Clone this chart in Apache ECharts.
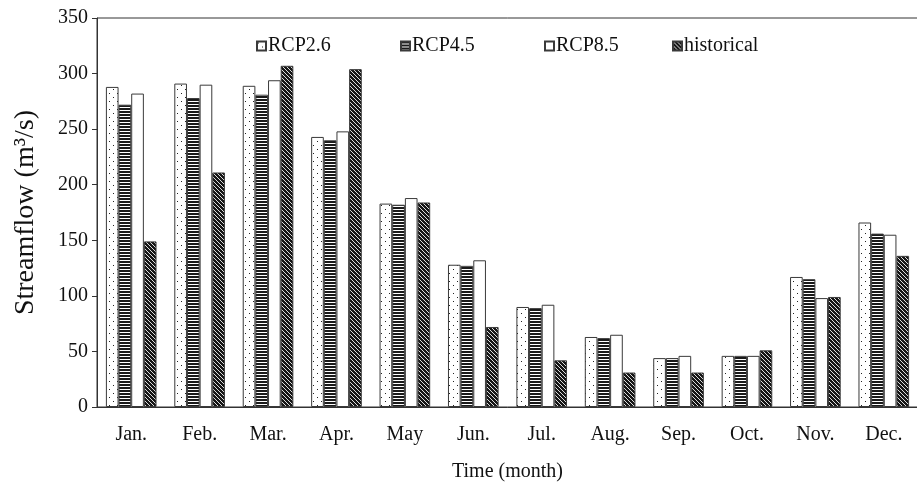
<!DOCTYPE html>
<html>
<head>
<meta charset="utf-8">
<script src="https://cdn.jsdelivr.net/npm/echarts@6/dist/echarts.min.js"></script>
<style>
  html, body { margin: 0; padding: 0; background: #fff; }
  #chart { width: 917px; height: 482px; }
</style>
</head>
<body>
<div id="chart"></div>
<script>
// Monthly streamflow (m3/s) under climate scenarios vs. the historical record
const months = ['Jan.', 'Feb.', 'Mar.', 'Apr.', 'May', 'Jun.', 'Jul.', 'Aug.', 'Sep.', 'Oct.', 'Nov.', 'Dec.'];
const rcp26 = [288, 291, 289, 243, 183, 128, 90, 63, 44, 46, 117, 166];
const rcp45 = [272, 278, 281, 240, 182, 127, 89, 62, 44, 46, 115, 156];
const rcp85 = [282, 290, 294, 248, 188, 132, 92, 65, 46, 46, 98, 155];
const historical = [149, 211, 307, 304, 184, 72, 42, 31, 31, 51, 99, 136];
const yTicks = [0, 50, 100, 150, 200, 250, 300, 350];

// Small tiles used as repeating fill patterns
function tile(w, h, draw) {
  const c = document.createElement('canvas');
  c.width = w; c.height = h;
  const ctx = c.getContext('2d');
  draw(ctx, w, h);
  return c;
}
const dotTile = tile(8, 8, (ctx, w, h) => {
  ctx.fillStyle = '#fff'; ctx.fillRect(0, 0, w, h);
  ctx.fillStyle = '#222';
  ctx.fillRect(1, 1, 1, 1);
  ctx.fillRect(5, 5, 1, 1);
});
const stripeTile = tile(4, 3, (ctx, w, h) => {
  ctx.fillStyle = '#fff'; ctx.fillRect(0, 0, w, h);
  ctx.fillStyle = '#1a1a1a'; ctx.fillRect(0, 0, w, 2);
});
const hatchTile = tile(4, 4, (ctx, w, h) => {
  ctx.fillStyle = '#161616'; ctx.fillRect(0, 0, w, h);
  ctx.fillStyle = '#ddd';
  for (let i = 0; i < 4; i++) ctx.fillRect(i, i, 1, 1);
});

const fills = {
  'RCP2.6': { image: dotTile, repeat: 'repeat' },
  'RCP4.5': { image: stripeTile, repeat: 'repeat' },
  'RCP8.5': '#ffffff',
  'historical': { image: hatchTile, repeat: 'repeat' }
};

const serif = '"Liberation Serif", "Times New Roman", serif';

function barSeries(name, data) {
  return {
    name: name,
    type: 'bar',
    data: data,
    barGap: '0%',
    barCategoryGap: '26%',
    itemStyle: { color: fills[name], borderColor: '#3a3a3a', borderWidth: 1 },
    emphasis: { disabled: true }
  };
}

function legendAt(name, left) {
  return {
    data: [name],
    left: left,
    top: 36,
    icon: 'rect',
    itemWidth: 9,
    itemHeight: 9,
    itemGap: 0,
    textStyle: { fontFamily: serif, fontSize: 20, color: '#111', padding: [0, 0, 0, -3] },
    padding: 0
  };
}

const chart = echarts.init(document.getElementById('chart'), null, { renderer: 'canvas' });
chart.setOption({
  animation: false,
  backgroundColor: '#fff',
  legend: [
    legendAt('RCP2.6', 256),
    legendAt('RCP4.5', 400),
    legendAt('RCP8.5', 544),
    legendAt('historical', 672)
  ],
  grid: {
    left: 97, top: 18, width: 821, height: 389,
    show: true, borderColor: '#333', borderWidth: 1,
    containLabel: false,
    outerBoundsMode: 'none'
  },
  xAxis: {
    type: 'category',
    data: months,
    name: 'Time (month)',
    nameLocation: 'middle',
    nameGap: 55,
    nameTextStyle: { fontFamily: serif, fontSize: 20, color: '#111' },
    axisLine: { show: true, lineStyle: { color: '#333', width: 1 } },
    axisTick: { show: false },
    axisLabel: { fontFamily: serif, fontSize: 20, color: '#111', margin: 18 }
  },
  yAxis: {
    type: 'value',
    min: yTicks[0],
    max: yTicks[yTicks.length - 1],
    interval: 50,
    name: 'Streamflow (m³/s)',
    nameLocation: 'middle',
    nameGap: 57,
    nameTextStyle: { fontFamily: serif, fontSize: 28, color: '#111' },
    axisLine: { show: true, lineStyle: { color: '#333', width: 1 } },
    axisTick: { show: true, length: 5, lineStyle: { color: '#333' } },
    splitLine: { show: false },
    axisLabel: { fontFamily: serif, fontSize: 20, color: '#111', margin: 9 }
  },
  series: [
    barSeries('RCP2.6', rcp26),
    barSeries('RCP4.5', rcp45),
    barSeries('RCP8.5', rcp85),
    barSeries('historical', historical)
  ]
});
</script>
</body>
</html>
